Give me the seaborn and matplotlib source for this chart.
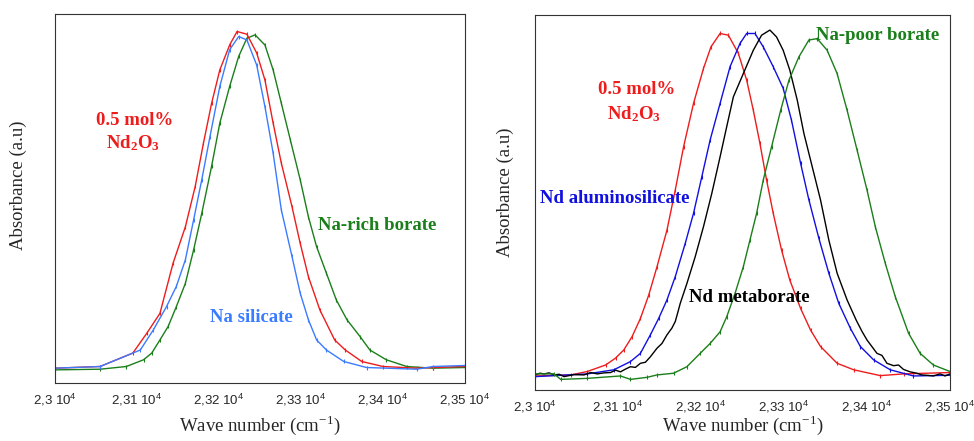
import matplotlib
matplotlib.use("Agg")
import matplotlib.pyplot as plt
import seaborn as sns
import pandas as pd

# ---------- data (normalised absorbance) ----------
# left panel
l_red_x = [23000, 23055, 23095, 23112, 23128, 23144, 23159, 23171, 23181, 23191, 23201, 23213, 23222,
           23234, 23246, 23256, 23266, 23276, 23289, 23299, 23309, 23323, 23341, 23354, 23374, 23400,
           23441, 23461, 23500]
l_red_y = [0.0, 0.005, 0.045, 0.104, 0.163, 0.312, 0.42, 0.54, 0.668, 0.787, 0.886, 0.96, 1.0,
           0.992, 0.936, 0.856, 0.728, 0.609, 0.48, 0.371, 0.272, 0.173, 0.084, 0.054, 0.02, 0.005,
           0.0, 0.002, 0.005]

l_blue_x = [23000, 23055, 23104, 23120, 23136, 23148, 23159, 23169, 23179, 23189, 23201, 23213, 23224,
            23234, 23246, 23256, 23266, 23276, 23289, 23299, 23309, 23319, 23331, 23352, 23380, 23441,
            23461, 23500]
l_blue_y = [0.0, 0.005, 0.054, 0.114, 0.183, 0.243, 0.322, 0.44, 0.56, 0.688, 0.837, 0.946, 0.985,
            0.975, 0.90, 0.777, 0.639, 0.47, 0.332, 0.223, 0.144, 0.084, 0.054, 0.02, 0.002, -0.003,
            0.005, 0.008]

l_green_x = [23000, 23055, 23087, 23108, 23118, 23128, 23138, 23148, 23159, 23169, 23179, 23191, 23201,
             23213, 23224, 23234, 23244, 23256, 23266, 23276, 23287, 23299, 23309, 23319, 23331, 23343,
             23356, 23372, 23384, 23404, 23429, 23461, 23500]
l_green_y = [-0.005, -0.003, 0.005, 0.025, 0.045, 0.084, 0.124, 0.183, 0.252, 0.351, 0.46, 0.6, 0.728,
             0.837, 0.926, 0.98, 0.99, 0.96, 0.886, 0.787, 0.678, 0.56, 0.45, 0.361, 0.282, 0.203,
             0.144, 0.094, 0.054, 0.025, 0.005, 0.0, 0.002]

# right panel
r_red_x = [23000, 23043, 23063, 23085, 23097, 23107, 23117, 23127, 23137, 23147, 23159, 23169, 23179,
           23191, 23203, 23212, 23223, 23233, 23245, 23255, 23263, 23271, 23279, 23287, 23297, 23307,
           23320, 23332, 23344, 23364, 23384, 23416, 23444, 23500]
r_red_y = [0.0, 0.003, 0.013, 0.032, 0.052, 0.076, 0.115, 0.168, 0.236, 0.319, 0.426, 0.543, 0.669,
           0.796, 0.898, 0.961, 1.0, 0.995, 0.942, 0.864, 0.776, 0.679, 0.572, 0.475, 0.368, 0.28,
           0.197, 0.134, 0.086, 0.037, 0.018, 0.001, 0.006, 0.01]

r_blue_x = [23000, 23063, 23095, 23115, 23127, 23139, 23149, 23159, 23169, 23181, 23191, 23201, 23211,
            23223, 23235, 23247, 23255, 23265, 23275, 23287, 23299, 23309, 23320, 23330, 23342, 23354,
            23366, 23380, 23392, 23408, 23428, 23456, 23500]
r_blue_y = [-0.002, 0.006, 0.018, 0.042, 0.066, 0.12, 0.168, 0.222, 0.29, 0.387, 0.475, 0.582, 0.689,
            0.796, 0.903, 0.971, 1.0, 1.0, 0.961, 0.903, 0.84, 0.747, 0.621, 0.514, 0.402, 0.30,
            0.212, 0.139, 0.086, 0.047, 0.018, 0.0, 0.002]

r_black_x = [23000, 23006, 23011, 23017, 23023, 23029, 23035, 23047, 23059, 23067, 23075, 23083, 23091,
             23097, 23103, 23109, 23115, 23121, 23127, 23133, 23139, 23147, 23153, 23159, 23165, 23169,
             23172, 23175, 23183, 23193, 23203, 23213, 23223, 23231, 23239, 23251, 23263, 23273, 23283,
             23291, 23299, 23307, 23316, 23324, 23334, 23344, 23354, 23364, 23376, 23387, 23394, 23400,
             23412, 23418, 23424, 23432, 23438, 23444, 23452, 23460, 23466, 23472, 23480, 23488, 23494,
             23500]
r_black_y = [0.003, 0.008, 0.006, 0.009, 0.003, 0.005, -0.002, 0.004, 0.003, 0.01, 0.006, 0.009, 0.01,
             0.017, 0.012, 0.02, 0.027, 0.025, 0.037, 0.04, 0.056, 0.081, 0.095, 0.12, 0.14, 0.159,
             0.185, 0.212, 0.27, 0.348, 0.436, 0.533, 0.64, 0.728, 0.815, 0.883, 0.951, 0.995, 1.01,
             0.99, 0.951, 0.893, 0.805, 0.708, 0.611, 0.514, 0.397, 0.30, 0.222, 0.163, 0.13, 0.105,
             0.066, 0.06, 0.037, 0.03, 0.032, 0.019, 0.012, 0.008, 0.003, 0.002, 0.0, 0.006, 0.0,
             0.006]

r_green_x = [23000, 23023, 23031, 23063, 23103, 23115, 23135, 23147, 23167, 23183, 23199, 23211, 23223,
             23231, 23241, 23251, 23259, 23267, 23275, 23285, 23296, 23306, 23318, 23330, 23340, 23352,
             23364, 23376, 23388, 23400, 23410, 23422, 23434, 23450, 23464, 23480, 23500]
r_green_y = [0.006, 0.006, -0.01, -0.007, 0.0, -0.01, -0.004, 0.003, 0.008, 0.027, 0.066, 0.095, 0.129,
             0.173, 0.241, 0.319, 0.397, 0.475, 0.572, 0.669, 0.776, 0.864, 0.932, 0.981, 0.985, 0.951,
             0.883, 0.776, 0.66, 0.543, 0.436, 0.329, 0.232, 0.125, 0.066, 0.032, 0.013]

tick_vals = [23000, 23100, 23200, 23300, 23400, 23500]
tick_labels = ["2,3 10$^\\mathsf{4}$", "2,31 10$^\\mathsf{4}$", "2,32 10$^\\mathsf{4}$",
               "2,33 10$^\\mathsf{4}$", "2,34 10$^\\mathsf{4}$", "2,35 10$^\\mathsf{4}$"]

RED = "#ee1c1c"
LBLUE = "#3a7bff"
BLUE = "#1010e0"
GREEN = "#1a7f1a"
BLACK = "#000000"

sns.set_theme(style="white")
plt.rcParams["font.family"] = ["Liberation Serif", "DejaVu Serif"]
plt.rcParams["mathtext.fontset"] = "custom"
plt.rcParams["mathtext.rm"] = "Liberation Serif"
plt.rcParams["mathtext.bf"] = "Liberation Serif:bold"
plt.rcParams["mathtext.sf"] = "Liberation Sans"

fig = plt.figure(figsize=(9.74, 4.41), dpi=100)
ax1 = fig.add_axes([55 / 974, 1 - 383 / 441, 410 / 974, 369 / 441])
ax2 = fig.add_axes([535 / 974, 1 - 390 / 441, 415 / 974, 375 / 441])


def draw(ax, x, y, color, marker=True):
    df = pd.DataFrame({"x": x, "y": y})
    sns.lineplot(data=df, x="x", y="y", color=color, lw=1.0, ax=ax, legend=False,
                 marker="|" if marker else None, markersize=3, markeredgewidth=0.8,
                 markeredgecolor=color)


draw(ax1, l_green_x, l_green_y, GREEN)
draw(ax1, l_red_x, l_red_y, RED)
draw(ax1, l_blue_x, l_blue_y, LBLUE)

draw(ax2, r_red_x, r_red_y, RED)
draw(ax2, r_blue_x, r_blue_y, BLUE)
draw(ax2, r_black_x, r_black_y, BLACK, marker=False)
draw(ax2, r_green_x, r_green_y, GREEN)

# (axes, ylim low, ylim high, xlabel baseline y, ylabel x, ylabel y) in axes fractions
for ax, ylo, yhi, xl_y, yl_x, yl_y in [(ax1, -0.044, 1.052, -0.130, -0.09, 0.537),
                                       (ax2, -0.041, 1.054, -0.110, -0.072, 0.528)]:
    ax.set_xlim(23000, 23500)
    ax.set_ylim(ylo, yhi)
    ax.set_yticks([])
    ax.set_xticks(tick_vals)
    ax.set_xticklabels(tick_labels, fontfamily="Liberation Sans", fontsize=9.5)
    ax.tick_params(axis="x", direction="out", length=5, width=0.8, color="black", pad=1.5)
    for s in ax.spines.values():
        s.set_color("#333333")
        s.set_linewidth(0.8)
    ax.set_xlabel("Wave number (cm$^{\\mathrm{-1}}$)", fontsize=13.5, va="baseline")
    ax.xaxis.set_label_coords(0.5, xl_y)
    ax.set_ylabel("Absorbance (a.u)", fontsize=13.5, va="center")
    ax.yaxis.set_label_coords(yl_x, yl_y)

lab = dict(fontsize=13.5, fontweight="bold")
ax1.text(23097, 0.737, "0.5 mol%", color=RED, ha="center", va="center", **lab)
ax1.text(23095, 0.668, "$\\mathbf{Nd_2O_3}$", color=RED, ha="center", va="center", fontsize=13.5)
ax1.text(23321, 0.425, "Na-rich borate", color=GREEN, ha="left", va="center", **lab)
ax1.text(23189, 0.152, "Na silicate", color=LBLUE, ha="left", va="center", **lab)

ax2.text(23123, 0.835, "0.5 mol%", color=RED, ha="center", va="center", **lab)
ax2.text(23119, 0.765, "$\\mathbf{Nd_2O_3}$", color=RED, ha="center", va="center", fontsize=13.5)
ax2.text(23006, 0.519, "Nd aluminosilicate", color=BLUE, ha="left", va="center", **lab)
ax2.text(23186, 0.228, "Nd metaborate", color=BLACK, ha="left", va="center", **lab)
ax2.text(23339, 0.995, "Na-poor borate", color=GREEN, ha="left", va="center", **lab)

fig.savefig("out.png", dpi=100)
plt.close(fig)
